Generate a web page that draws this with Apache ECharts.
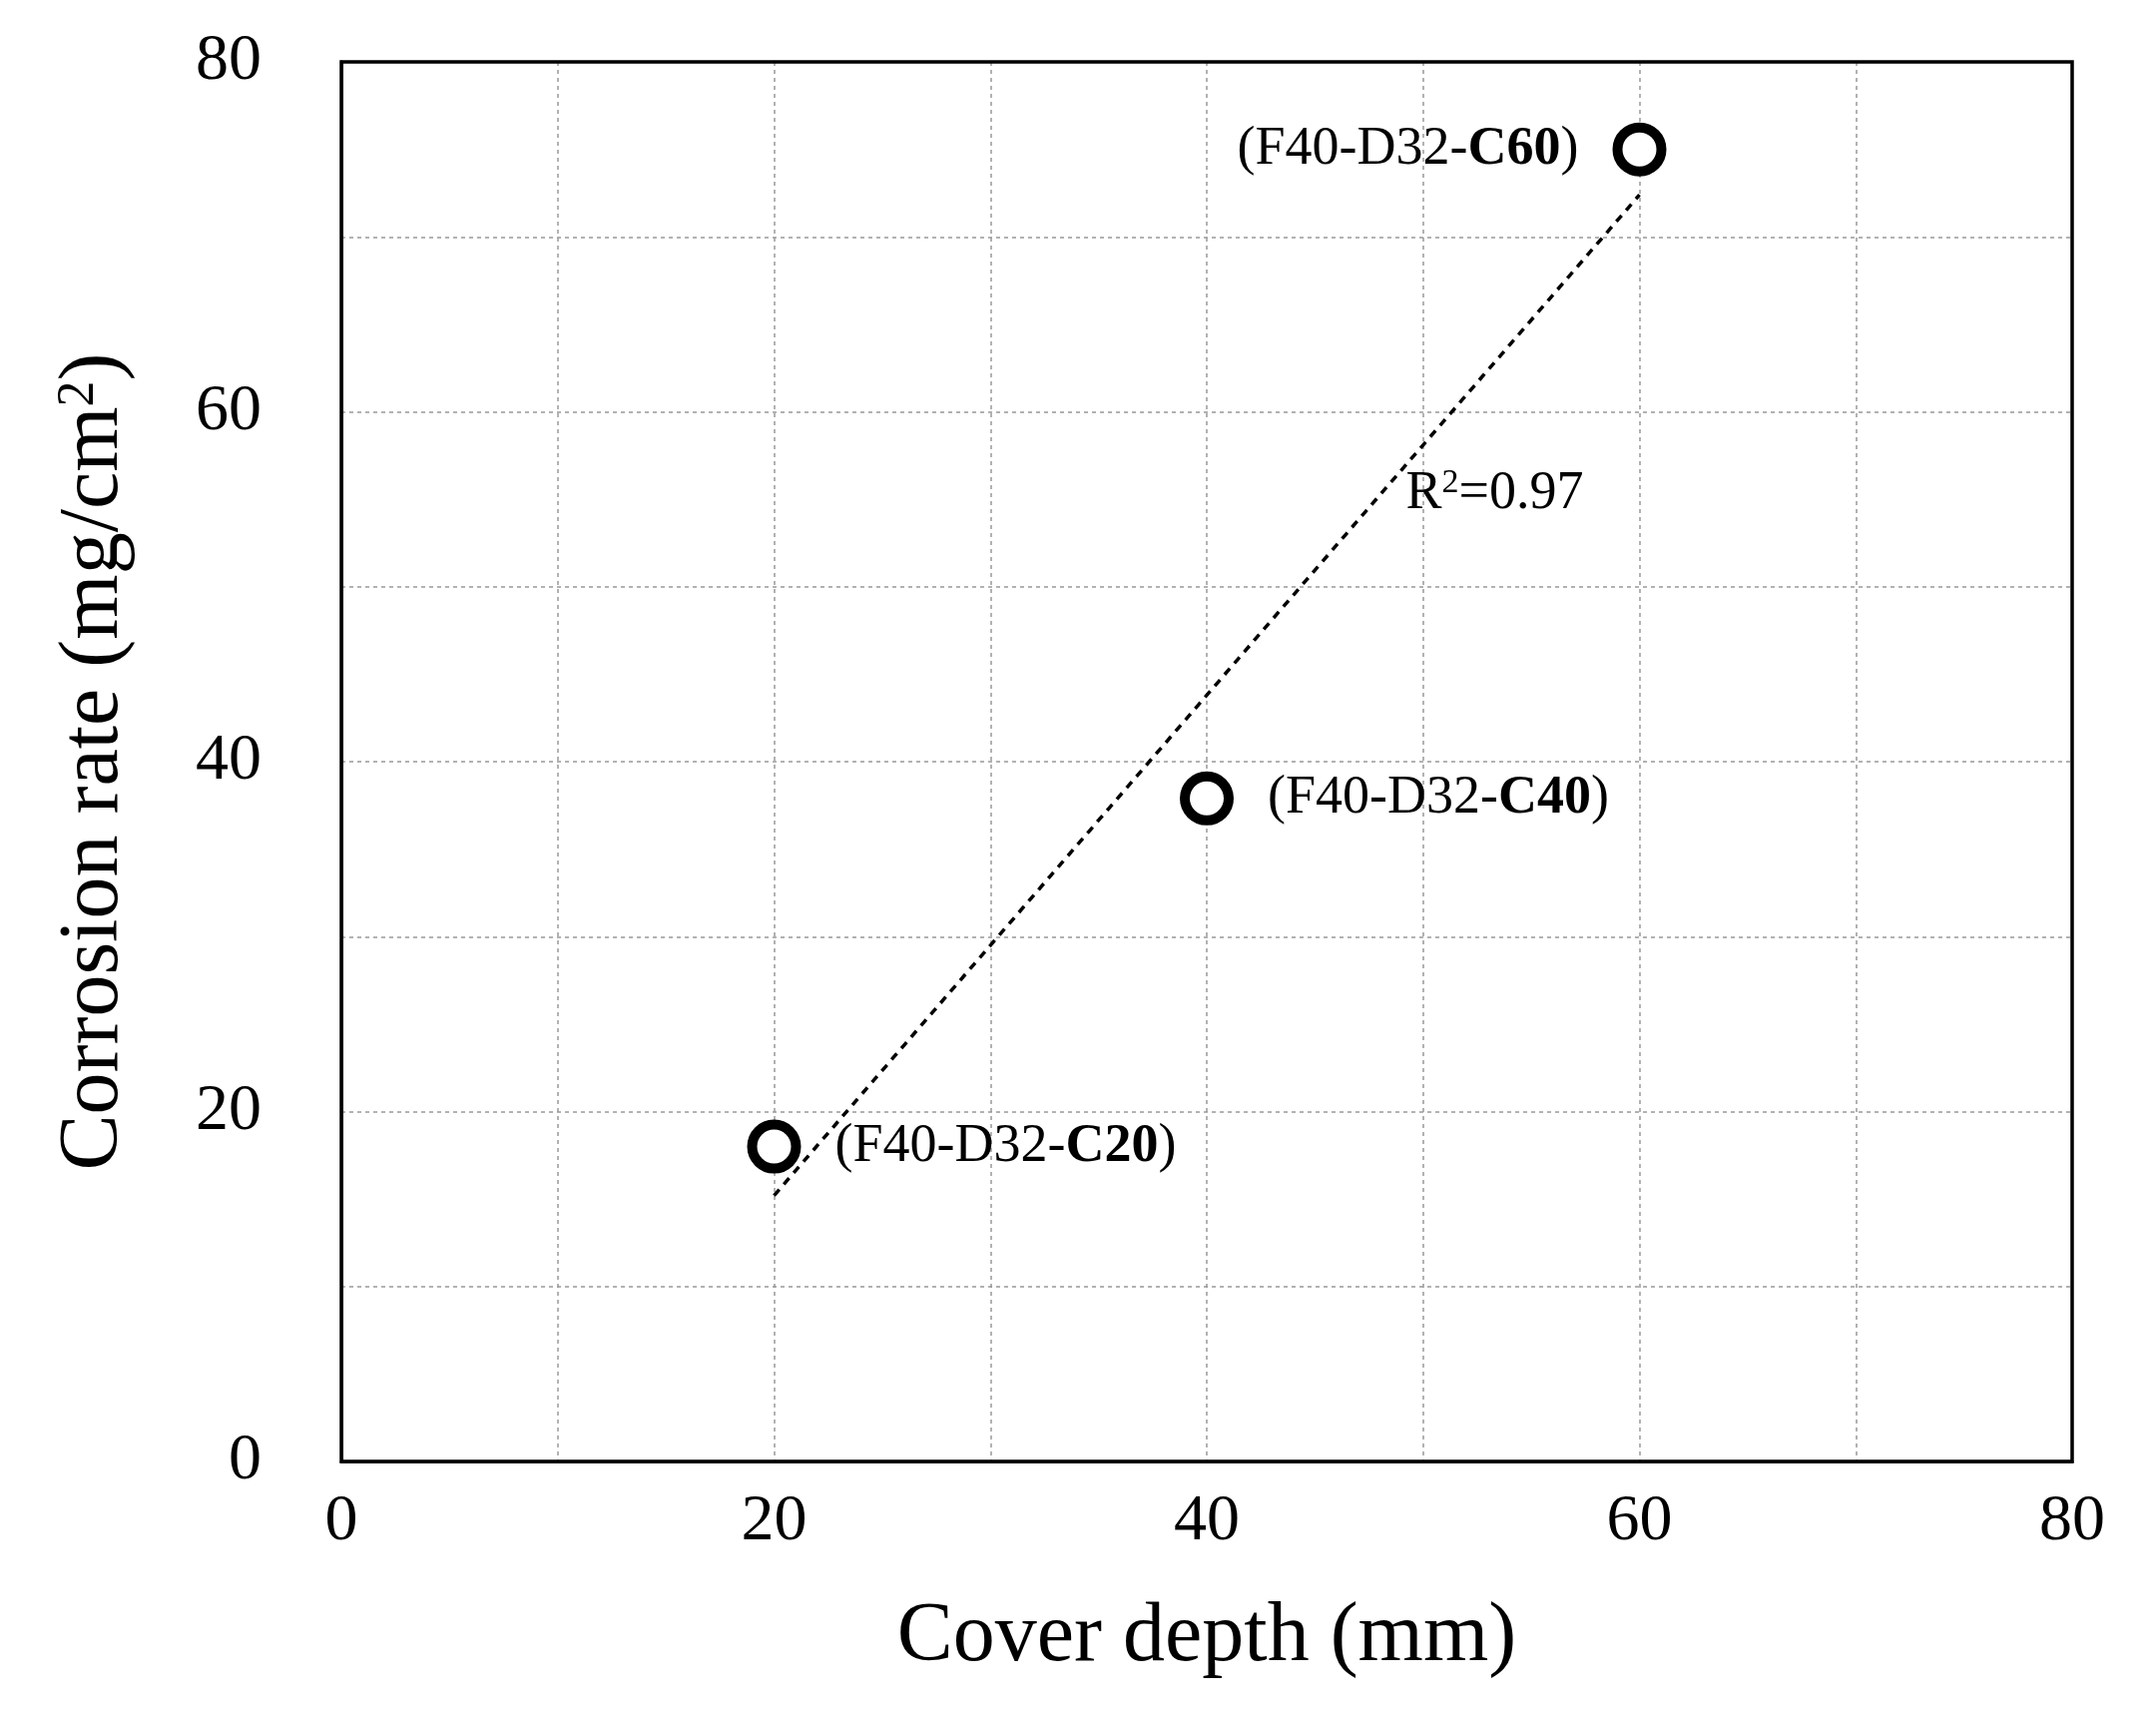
<!DOCTYPE html>
<html><head><meta charset="utf-8">
<script src="https://cdn.jsdelivr.net/npm/echarts@6/dist/echarts.min.js"></script>
<style>html,body{margin:0;background:#fff}#c{width:2160px;height:1719px}</style>
</head><body><div id="c"></div>
<script>
const coverDepth = [20, 40, 60];
const corrosionRate = [18.0, 37.9, 75.0];
const specimenPrefix = ['(F40-D32-', '(F40-D32-', '(F40-D32-'];
const specimenBold = ['C20', 'C40', 'C60'];
const trendX = [20, 60];
const trendY = [15.2, 72.4];
const r2Pos = [49.2, 55.3];
const r2Text = '0.97';
const font = 'Liberation Serif';
const chart = echarts.init(document.getElementById('c'));
const labelPos = ['right', 'right', 'left'];
chart.setOption({
  animation: false,
  grid: {left: 342, right: 84, top: 62, bottom: 255},
  xAxis: {type: 'value', min: 0, max: 80, interval: 10,
    name: 'Cover depth (mm)', nameLocation: 'middle', nameGap: 135,
    nameTextStyle: {fontFamily: font, fontSize: 84, color: '#000'},
    axisLine: {show: true, lineStyle: {color: '#000', width: 3}},
    axisTick: {show: false},
    axisLabel: {fontFamily: font, fontSize: 66, color: '#000', margin: 28,
      formatter: v => v % 20 === 0 ? String(v) : ''},
    splitLine: {show: true, lineStyle: {color: '#999', type: [4, 4], width: 1.5}}},
  yAxis: {type: 'value', min: 0, max: 80, interval: 10,
    name: 'Corrosion rate (mg/cm{s|2})', nameLocation: 'middle', nameGap: 205,
    nameTextStyle: {fontFamily: font, fontSize: 84, color: '#000',
      rich: {s: {fontFamily: font, fontSize: 52, verticalAlign: 'top', padding: [0,0,32,0]}}},
    axisLine: {show: true, lineStyle: {color: '#000', width: 3}},
    axisTick: {show: false},
    axisLabel: {fontFamily: font, fontSize: 66, color: '#000', margin: 80,
      formatter: v => v % 20 === 0 ? String(v) : ''},
    splitLine: {show: true, lineStyle: {color: '#999', type: [4, 4], width: 1.5}}},
  series: [
    {type: 'line', data: trendX.map((x, i) => [x, trendY[i]]), symbol: 'none',
     lineStyle: {color: '#000', width: 3.5, type: [8, 7]}, z: 2},
    {type: 'scatter', symbol: 'circle', symbolSize: 44,
     itemStyle: {color: '#fff', borderColor: '#000', borderWidth: 10, opacity: 1}, z: 3,
     data: coverDepth.map((x, i) => ({value: [x, corrosionRate[i]],
       label: {show: true, position: labelPos[i], distance: 34,
         formatter: specimenPrefix[i] + '{b|' + specimenBold[i] + '}{n|)}',
         fontFamily: font, fontSize: 54, color: '#000',
         rich: {b: {fontFamily: font, fontSize: 54, fontWeight: 'bold', color: '#000'},
                n: {fontFamily: font, fontSize: 54, color: '#000'}}}}))},
    {type: 'scatter', symbolSize: 0, data: [r2Pos], silent: true, itemStyle: {opacity: 1},
     label: {show: true, position: 'right', distance: 0, formatter: 'R{s|2}=' + r2Text,
       fontFamily: font, fontSize: 54, color: '#000',
       rich: {s: {fontFamily: font, fontSize: 34, color: '#000', verticalAlign: 'top', padding: [0,0,22,0]}}}}
  ],
  graphic: [{type: 'rect', shape: {x: 342, y: 62, width: 1734, height: 1402},
    style: {fill: 'none', stroke: '#000', lineWidth: 3.5}, silent: true, z: 10}]
});
</script></body></html>
